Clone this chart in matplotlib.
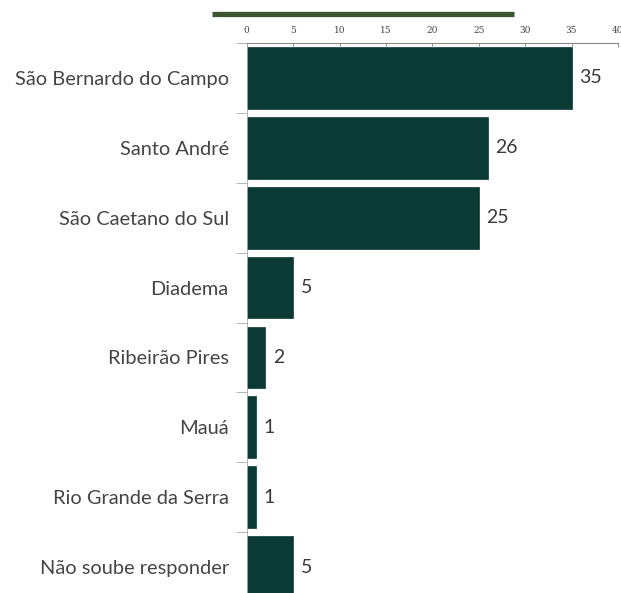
import matplotlib
matplotlib.use("Agg")
import matplotlib.pyplot as plt
from matplotlib.lines import Line2D

categories = ["São Bernardo do Campo", "Santo André", "São Caetano do Sul", "Diadema",
              "Ribeirão Pires", "Mauá", "Rio Grande da Serra", "Não soube responder"]
values = [35, 26, 25, 5, 2, 1, 1, 5]
xticks = [0, 5, 10, 15, 20, 25, 30, 35, 40]

W, H = 621, 593
fig = plt.figure(figsize=(W / 100, H / 100), dpi=100)
fig.patch.set_facecolor("white")

left = 246.7 / W
right = 618.0 / W
top = 43.0 / H
bottom = 602.0 / H
ax = fig.add_axes([left, 1 - bottom, right - left, bottom - top])

ypos = list(range(len(categories)))
ax.barh(ypos, values, height=0.885, color="#0b3a35", edgecolor="#0b3a35", linewidth=0.5)
ax.set_xlim(0, 40)
ax.set_ylim(len(categories) - 0.5, -0.5)

for y, v in zip(ypos, values):
    ax.text(v + 0.8, y, str(v), va="center", ha="left", fontsize=14,
            color="#3a3a3a", family="Lato")

ax.xaxis.tick_top()
ax.set_xticks(xticks)
ax.set_xticklabels([str(t) for t in xticks], family="DejaVu Serif", fontsize=6.5, color="#444444")
ax.tick_params(axis="x", direction="in", length=3, width=0.6, color="#888888", pad=6)

ax.set_yticks(ypos)
ax.set_yticklabels(categories, family="Lato", fontsize=14.4, color="#454545")
ax.tick_params(axis="y", which="major", length=0, pad=13)
ax.set_yticks([i - 0.5 for i in range(len(categories) + 1)], minor=True)
ax.tick_params(axis="y", which="minor", length=8, width=0.6, color="#aaaaaa")

for s in ["right", "bottom"]:
    ax.spines[s].set_visible(False)
ax.spines["top"].set_color("#888888")
ax.spines["top"].set_linewidth(0.8)
ax.spines["left"].set_color("#aaaaaa")
ax.spines["left"].set_linewidth(0.6)

fig.add_artist(Line2D([212 / W, 514 / W], [1 - 13.5 / H, 1 - 13.5 / H],
                      color="#3d5530", linewidth=3.8, solid_capstyle="butt"))

fig.savefig("out.png", dpi=100, facecolor="white")
